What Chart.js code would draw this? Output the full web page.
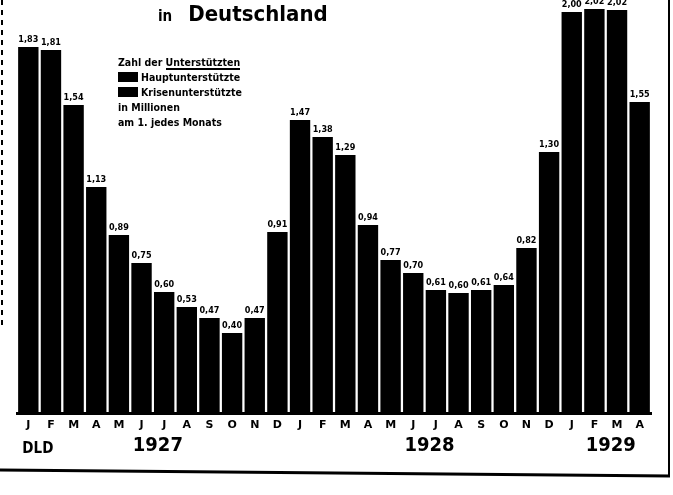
<!DOCTYPE html>
<html>
<head>
<meta charset="utf-8">
<script src="https://cdn.jsdelivr.net/npm/chart.js@4.4.0/dist/chart.umd.min.js"></script>
<style>
  html, body { margin: 0; padding: 0; background: #fff; }
  #wrap { position: relative; width: 673px; height: 495px; overflow: hidden; }
  #title { position: absolute; left: 158px; top: 1px; font: bold 22px "DejaVu Sans Condensed"; color: #000; white-space: nowrap; }
  #title small { font-size: 15px; margin-right: 16px; }
  #legend { position: absolute; left: 118px; top: 55px; font: bold 10.5px "DejaVu Sans Condensed"; color: #000; line-height: 15px; white-space: nowrap; }
  #legend .sq { display: inline-block; width: 20px; height: 10px; background: #000; vertical-align: -1px; margin-right: 3px; }
  #legend .ul { border-bottom: 2px solid #000; }
</style>
</head>
<body>
<div id="wrap">
  <canvas id="chart" width="673" height="495"></canvas>
  <div id="title"><small>in</small>Deutschland</div>
  <div id="legend">
    <div>Zahl der <span class="ul">Unterstützten</span></div>
    <div><span class="sq"></span>Hauptunterstützte</div>
    <div><span class="sq"></span>Krisenunterstützte</div>
    <div>in Millionen</div>
    <div>am 1. jedes Monats</div>
  </div>
</div>
<script>
// months Jan 1927 - Apr 1929
const months = ['J','F','M','A','M','J','J','A','S','O','N','D',
                'J','F','M','A','M','J','J','A','S','O','N','D',
                'J','F','M','A'];
// unterstützte Arbeitslose, in Tausend
const unemployed = [1830, 1815, 1540, 1130, 890, 750, 605, 530, 475, 400, 475, 905,
                    1465, 1380, 1290, 940, 765, 700, 615, 600, 615, 640, 825, 1305,
                    2005, 2020, 2015, 1555];
const years = ['1927', '1928', '1929'];
const yearFirst = [0, 12, 24];
const yearLast = [11, 23, 27];
const cornerLabel = 'DLD';

// value labels, year labels and the page frame
const extras = {
  id: 'extras',
  afterDatasetsDraw(chart) {
    const ctx = chart.ctx;
    const meta = chart.getDatasetMeta(0);
    const xs = chart.scales.x;
    ctx.save();
    ctx.fillStyle = '#000';
    ctx.textAlign = 'center';
    ctx.textBaseline = 'bottom';
    ctx.font = 'bold 9px "DejaVu Sans Condensed"';
    meta.data.forEach((bar, i) => {
      const txt = (unemployed[i] / 1000).toFixed(2).replace('.', ',');
      ctx.fillText(txt, bar.x, bar.y - 3);
    });

    ctx.font = 'bold 20px "DejaVu Sans Condensed"';
    ctx.textBaseline = 'top';
    years.forEach((y, i) => {
      const cx = (xs.getPixelForValue(yearFirst[i]) + xs.getPixelForValue(yearLast[i])) / 2 + 5;
      ctx.fillText(y, cx, 436);
    });
    ctx.font = 'bold 15px "DejaVu Sans Condensed"';
    ctx.textAlign = 'left';
    ctx.fillText(cornerLabel, xs.getPixelForValue(0) - 6, 442);

    // frame
    ctx.strokeStyle = '#000';
    ctx.lineWidth = 2;
    ctx.beginPath();
    ctx.moveTo(669, 0);
    ctx.lineTo(669, 476);
    ctx.stroke();
    ctx.lineWidth = 3;
    ctx.beginPath();
    ctx.moveTo(0, 470);
    ctx.lineTo(670, 476);
    ctx.stroke();
    ctx.lineWidth = 2;
    ctx.setLineDash([5, 5]);
    ctx.beginPath();
    ctx.moveTo(2, 0);
    ctx.lineTo(2, 330);
    ctx.stroke();
    ctx.restore();
  }
};

new Chart(document.getElementById('chart'), {
  type: 'bar',
  data: {
    labels: months,
    datasets: [{
      label: 'Unterstützte',
      data: unemployed,
      backgroundColor: '#000',
      borderWidth: 0,
      barPercentage: 0.9,
      categoryPercentage: 1.0
    }]
  },
  options: {
    responsive: false,
    animation: false,
    devicePixelRatio: 1,
    layout: { padding: { left: 17, right: 22, top: 0, bottom: 0 } },
    plugins: {
      legend: { display: false },
      tooltip: { enabled: false }
    },
    scales: {
      x: {
        grid: { display: false, drawTicks: false },
        border: { display: true, color: '#000', width: 3 },
        ticks: {
          color: '#000',
          font: { family: 'DejaVu Sans', weight: 'bold', size: 11 },
          padding: 6,
          maxRotation: 0,
          autoSkip: false
        },
        afterFit(scale) { scale.height = 82; }
      },
      y: {
        display: false,
        min: 0,
        max: 2065
      }
    }
  },
  plugins: [extras]
});
</script>
</body>
</html>
